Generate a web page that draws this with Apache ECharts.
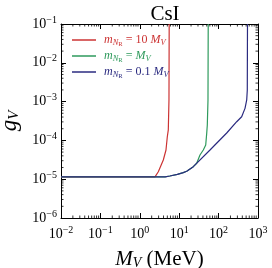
<!DOCTYPE html>
<html><head><meta charset="utf-8">
<script src="https://cdn.jsdelivr.net/npm/echarts@6/dist/echarts.min.js"></script>
<style>html,body{margin:0;padding:0;background:#fff}#c{width:272px;height:268px}</style>
</head><body><div id="c"></div>
<script>
var xTicks = [0.01, 0.1, 1, 10, 100, 1000];
var yTicks = [1e-6, 1e-5, 1e-4, 1e-3, 1e-2, 1e-1];
var seriesNames = ['m10', 'm1', 'm01'];
var red = [[0.01,1.15e-5],[2.43,1.15e-5],[2.95,1.56e-5],[3.95,3.13e-5],[4.62,5.66e-5],[4.99,1.24e-4],[5.29,1.86e-4],[5.5,1.1e-3],[5.57,0.1]];
var green = [[0.01,1.15e-5],[4.4,1.15e-5],[5.8,1.21e-5],[9,1.33e-5],[12.7,1.48e-5],[15.5,1.6e-5],[22.8,2.1e-5],[27.8,2.57e-5],[33.7,4.2e-5],[40.9,5.66e-5],[47.1,7.6e-5],[49.9,1.52e-4],[51.7,2.5e-4],[53.8,1.1e-3],[54.5,0.1]];
var blue = [[0.01,1.15e-5],[4.4,1.15e-5],[5.8,1.21e-5],[9,1.33e-5],[12.7,1.48e-5],[15.5,1.6e-5],[22.8,2.1e-5],[60.5,5.66e-5],[160.6,1.55e-4],[288,3.03e-4],[316,3.36e-4],[385,4.08e-4],[468,6.7e-4],[517,1.1e-3],[535,2e-3],[541,0.1]];
var colors = ['#cc3333', '#2e9a5c', '#2b2b80'];

var FONT = 'Liberation Serif';
var xMinor = [], yMinor = [];
for (var n = -2; n < 3; n++) for (var k = 2; k < 10; k++) xMinor.push([k * Math.pow(10, n), 1e-3]);
for (var n2 = -6; n2 < -1; n2++) for (var k2 = 2; k2 < 10; k2++) yMinor.push([1, k2 * Math.pow(10, n2)]);

function expLabel(v) {
  var e = Math.round(Math.log10(v));
  return '{b|10}{s|' + (e < 0 ? '\u2212' + (-e) : e) + '}';
}
var tickRich = {
  b: {fontFamily: FONT, fontSize: 14, color: '#000'},
  s: {fontFamily: FONT, fontSize: 10, color: '#000', padding: [0, 0, 8, 0]}
};
function legendText(name) {
  var idx = seriesNames.indexOf(name);
  var c = ['r', 'g', 'u'][idx];
  var mid = [' = 10 ', ' = ', ' = 0.1 '][idx];
  return '{' + c + 'i|m}{' + c + 's|N}{' + c + 'ss|R}{' + c + 'n|' + mid + '}{' + c + 'i|M}{' + c + 's|V}';
}
var legRich = {};
['r', 'g', 'u'].forEach(function (c, i) {
  legRich[c + 'i'] = {fontFamily: FONT, fontStyle: 'italic', fontSize: 12, color: colors[i]};
  legRich[c + 'n'] = {fontFamily: FONT, fontSize: 12, color: colors[i]};
  legRich[c + 's'] = {fontFamily: FONT, fontStyle: 'italic', fontSize: 8.5, color: colors[i], padding: [5, 0, 0, 0]};
  legRich[c + 'ss'] = {fontFamily: FONT, fontSize: 6.5, color: colors[i], padding: [9, 0, 0, 0]};
});

function minorX(params, api) {
  var cs = params.coordSys;
  var x = api.coord([api.value(0), api.value(1)])[0];
  var st = {stroke: '#000', lineWidth: 0.8};
  return {type: 'group', children: [
    {type: 'line', shape: {x1: x, y1: cs.y + cs.height, x2: x, y2: cs.y + cs.height - 2.5}, style: st},
    {type: 'line', shape: {x1: x, y1: cs.y, x2: x, y2: cs.y + 2.5}, style: st}
  ]};
}
function minorY(params, api) {
  var cs = params.coordSys;
  var y = api.coord([api.value(0), api.value(1)])[1];
  var st = {stroke: '#000', lineWidth: 0.8};
  return {type: 'group', children: [
    {type: 'line', shape: {x1: cs.x, y1: y, x2: cs.x + 2.5, y2: y}, style: st},
    {type: 'line', shape: {x1: cs.x + cs.width, y1: y, x2: cs.x + cs.width - 2.5, y2: y}, style: st}
  ]};
}

var axisCommon = {
  type: 'log', logBase: 10,
  axisLine: {show: true, onZero: false, lineStyle: {color: '#000', width: 1}},
  axisTick: {show: true, inside: true, length: 5, lineStyle: {color: '#000', width: 1}},
  splitLine: {show: false},
  minorTick: {show: false}
};
function ax(extra) { return Object.assign({}, JSON.parse(JSON.stringify(axisCommon)), extra); }

var chart = echarts.init(document.getElementById('c'), null, {renderer: 'canvas'});
chart.setOption({
  animation: false,
  backgroundColor: '#fff',
  title: {text: 'CsI', left: 160, textAlign: 'center', top: -1,
    textStyle: {fontFamily: FONT, fontSize: 21, fontWeight: 'normal', color: '#000'}},
  grid: {left: 61, right: 14, top: 24, bottom: 50, containLabel: false, outerBoundsMode: 'none'},
  legend: {
    data: seriesNames.map(function (n, i) { return {name: n, itemStyle: {color: colors[i]}}; }),
    orient: 'vertical', left: 67, top: 29, itemWidth: 24, itemHeight: 1.5, itemGap: 2,
    icon: 'rect',
    formatter: legendText,
    textStyle: {rich: legRich, padding: [0, 0, 0, 3]}
  },
  xAxis: [
    ax({min: 0.01, max: 1000, interval: 1, position: 'bottom',
      axisLabel: {formatter: expLabel, rich: tickRich, margin: 7},
      name: '{i|M}{s|V}{n| (MeV)}', nameLocation: 'middle', nameGap: 30,
      nameTextStyle: {rich: {
        i: {fontFamily: FONT, fontStyle: 'italic', fontSize: 21, color: '#000'},
        s: {fontFamily: FONT, fontStyle: 'italic', fontSize: 14, color: '#000', padding: [8, 0, 0, 0]},
        n: {fontFamily: FONT, fontSize: 21, color: '#000'}
      }}}),
    ax({min: 0.01, max: 1000, interval: 1, position: 'top', axisLabel: {show: false}})
  ],
  yAxis: [
    ax({min: 1e-6, max: 0.1, interval: 1, position: 'left',
      axisLabel: {formatter: expLabel, rich: tickRich, margin: 4},
      name: '{i|g}{s|V}', nameLocation: 'middle', nameGap: 38, nameRotate: 90,
      nameTextStyle: {rich: {
        i: {fontFamily: FONT, fontStyle: 'italic', fontSize: 23, color: '#000'},
        s: {fontFamily: FONT, fontStyle: 'italic', fontSize: 15, color: '#000', padding: [9, 0, 0, 0]}
      }}}),
    ax({min: 1e-6, max: 0.1, interval: 1, position: 'right', axisLabel: {show: false}})
  ],
  series: [
    {name: seriesNames[0], type: 'line', data: red, showSymbol: false, symbol: 'none', color: colors[0], lineStyle: {width: 1.2, color: colors[0]}, z: 3},
    {name: seriesNames[1], type: 'line', data: green, showSymbol: false, symbol: 'none', color: colors[1], lineStyle: {width: 1.2, color: colors[1]}, z: 4},
    {name: seriesNames[2], type: 'line', data: blue, showSymbol: false, symbol: 'none', color: colors[2], lineStyle: {width: 1.2, color: colors[2]}, z: 5},
    {type: 'custom', renderItem: minorX, data: xMinor, silent: true, clip: false, z: 6},
    {type: 'custom', renderItem: minorY, data: yMinor, silent: true, clip: false, z: 6}
  ]
});
</script></body></html>
